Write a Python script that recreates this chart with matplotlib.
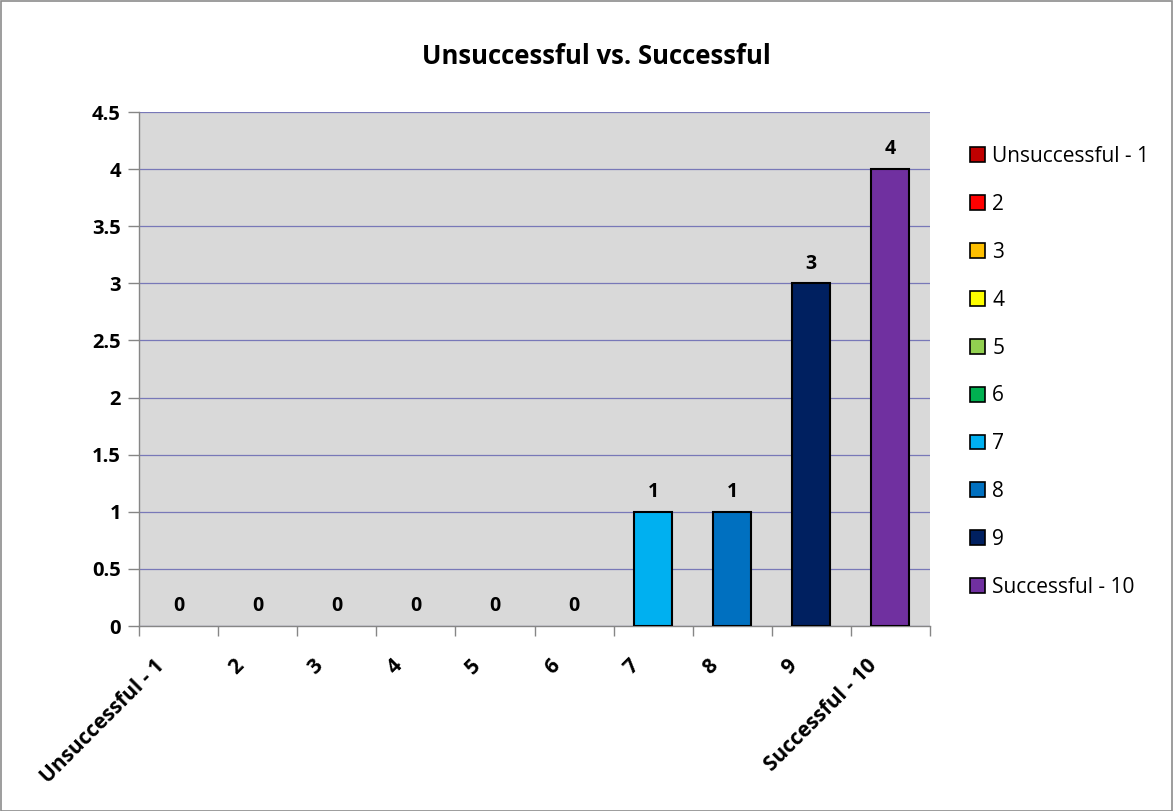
import matplotlib
matplotlib.use("Agg")
import matplotlib.pyplot as plt
from matplotlib.patches import Patch, Rectangle
from matplotlib.transforms import ScaledTranslation
import numpy as np

categories = ["Unsuccessful - 1", "2", "3", "4", "5", "6", "7", "8", "9", "Successful - 10"]
values = [0, 0, 0, 0, 0, 0, 1, 1, 3, 4]
colors = ["#C00000", "#FF0000", "#FFC000", "#FFFF00", "#92D050",
          "#00B050", "#00B0F0", "#0070C0", "#002060", "#7030A0"]
yticks = [0, 0.5, 1, 1.5, 2, 2.5, 3, 3.5, 4, 4.5]
ytick_labels = ["0", "0.5", "1", "1.5", "2", "2.5", "3", "3.5", "4", "4.5"]
title = "Unsuccessful vs. Successful"

plt.rcParams['font.family'] = ['Open Sans', 'DejaVu Sans']

fig = plt.figure(figsize=(11.74, 8.11), dpi=100)
fig.patches.append(Rectangle((0.0005, 0.0005), 0.998, 0.998, transform=fig.transFigure,
                             fill=False, edgecolor="#8C8C8C", linewidth=1.2))

ax = fig.add_axes([139/1174, 1 - 626/811, (930-139)/1174, (626-112)/811])
ax.set_facecolor("#D9D9D9")

x = np.arange(len(categories))
edge_widths = [1.5 if v > 0 else 0 for v in values]
ax.bar(x, values, width=0.48, color=colors, edgecolor="black", linewidth=edge_widths, zorder=3)

for xi, v in zip(x, values):
    ax.annotate(f"{v}", (xi, v), xytext=(0, 7), textcoords="offset points",
                ha="center", va="bottom", fontsize=14, fontweight="bold", zorder=4)

ax.set_xlim(-0.5, len(categories) - 0.5)
ax.set_ylim(0, 4.5)
ax.set_yticks(yticks)
ax.set_yticklabels(ytick_labels, fontsize=14.5, fontweight="bold")
ax.yaxis.grid(True, color="#7878B8", linewidth=0.9, zorder=1)
ax.set_axisbelow(True)

# category boundaries as ticks
ax.set_xticks(np.arange(-0.5, len(categories) + 0.5, 1.0))
ax.set_xticklabels([])
ax.tick_params(axis="x", which="major", length=7, color="#868686", width=1)
ax.tick_params(axis="y", length=8, color="#868686", width=1, pad=5)

# rotated category labels
off = ScaledTranslation(-17/100, -37/100, fig.dpi_scale_trans)
for xi, cat in zip(x, categories):
    ax.text(xi, 0, cat, transform=ax.get_xaxis_transform() + off, rotation=45,
            ha="right", va="center", rotation_mode="anchor",
            fontsize=15, fontweight="bold")

for s in ["top", "right"]:
    ax.spines[s].set_visible(False)
for s in ["left", "bottom"]:
    ax.spines[s].set_color("#868686")
    ax.spines[s].set_linewidth(1)

fig.text(596/1174, 1 - 57/811, title, ha="center", va="center", fontsize=18.5, fontweight="bold")

handles = [Patch(facecolor=c, edgecolor="black", linewidth=1.2) for c in colors]
fig.legend(handles, categories, loc="upper left", bbox_to_anchor=(970/1174, 1 - 146/811),
           frameon=False, fontsize=15, handlelength=0.72, handleheight=0.72,
           handletextpad=0.35, labelspacing=1.29, borderaxespad=0, borderpad=0)

fig.savefig("out.png", dpi=100)
